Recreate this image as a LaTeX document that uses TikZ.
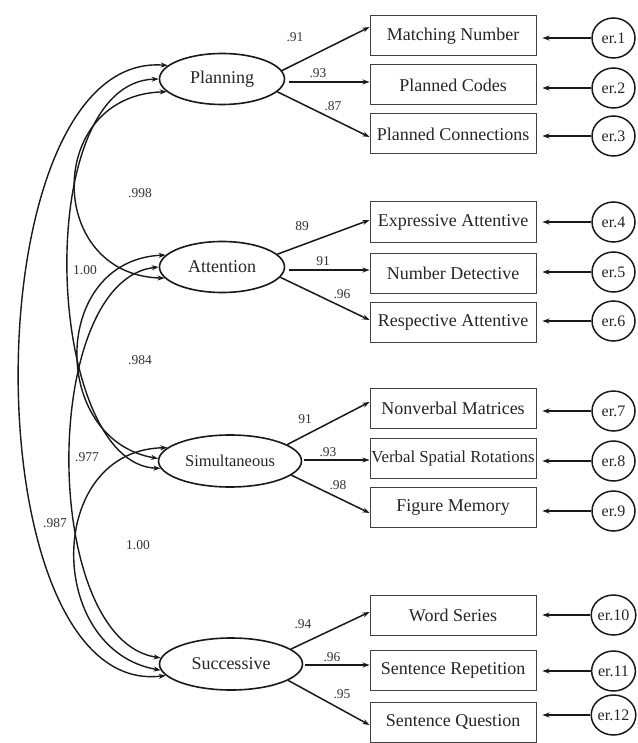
\documentclass[tikz,border=0pt]{standalone}
\usepackage{fontspec}
\setmainfont{Liberation Serif}
\usetikzlibrary{shapes.geometric,arrows.meta}
\begin{document}
\begin{tikzpicture}[x=1pt,y=-1pt,
  lat/.style={draw=black!90, ellipse, line width=1.6pt, inner sep=0pt, minimum width=125pt, minimum height=51pt, text=black!85, font=\fontsize{18}{18}\selectfont},
  obs/.style={draw=black!75, line width=1pt, rectangle, minimum width=166pt, minimum height=40pt, inner sep=0pt, text=black!85, font=\fontsize{18}{18}\selectfont},
  err/.style={draw=black!90, ellipse, line width=1.5pt, minimum width=43pt, minimum height=40pt, inner sep=0pt, text=black!85, font=\fontsize{16}{16}\selectfont},
  load/.style={draw=black!90, line width=1.5pt, -{Stealth[length=7pt,width=5pt]}},
  cov/.style={draw=black!90, line width=1.4pt, {Stealth[length=7pt,width=5pt]}-{Stealth[length=7pt,width=5pt]}},
  coef/.style={font=\fontsize{13.5}{13.5}\selectfont, inner sep=0pt, text=black!80},
]
\fill[white] (0,0) rectangle (637,743);
\useasboundingbox (0,0) rectangle (637,743);

% latent factors
\node[lat] (plan) at (222,79) {Planning};
\node[lat] (att) at (222,267) {Attention};
\node[lat, minimum width=143pt, minimum height=52pt, font=\fontsize{16.5}{16.5}\selectfont] (sim) at (230,461) {Simultaneous};
\node[lat, minimum width=143pt, minimum height=52pt] (suc) at (231,664) {Successive};

% observed variables
\node[obs] (b1) at (453,36) {Matching Number};
\node[obs] (b2) at (453,85) {Planned Codes};
\node[obs] (b3) at (453,134) {Planned Connections};
\node[obs] (b4) at (453,222) {Expressive Attentive};
\node[obs] (b5) at (453,273) {Number Detective};
\node[obs] (b6) at (453,322) {Respective Attentive};
\node[obs] (b7) at (453,408) {Nonverbal Matrices};
\node[obs, font=\fontsize{16.8}{16.8}\selectfont] (b8) at (453,458) {Verbal Spatial Rotations};
\node[obs] (b9) at (453,507) {Figure Memory};
\node[obs] (b10) at (453,615) {Word Series};
\node[obs] (b11) at (453,670) {Sentence Repetition};
\node[obs] (b12) at (453,722) {Sentence Question};

% error terms
\node[err] (e1) at (613.5,38) {er.1};
\node[err] (e2) at (613.5,88) {er.2};
\node[err] (e3) at (613.5,136) {er.3};
\node[err] (e4) at (613.5,222) {er.4};
\node[err] (e5) at (613.5,272) {er.5};
\node[err] (e6) at (613.5,321) {er.6};
\node[err] (e7) at (613.5,411) {er.7};
\node[err] (e8) at (613.5,461) {er.8};
\node[err] (e9) at (613.5,511) {er.9};
\node[err] (e10) at (613.5,615) {er.10};
\node[err] (e11) at (613.5,671) {er.11};
\node[err] (e12) at (613.5,715) {er.12};

\foreach \i in {1,...,12} {
  \draw[load, shorten >=6pt] (e\i.west) -- (e\i.west -| b\i.east);
}

% loadings
\draw[load] (plan.8) -- ([yshift=9pt]b1.west);
\draw[load] ([xshift=4pt,yshift=-3pt]plan.east) -- ([yshift=3pt]b2.west);
\draw[load] (plan.347) -- ([yshift=-3pt]b3.west);

\draw[load] (att.13) -- ([yshift=2pt]b4.west);
\draw[load] ([xshift=4pt,yshift=-3pt]att.east) -- ([yshift=3pt]b5.west);
\draw[load] (att.350) -- ([yshift=2pt]b6.west);

\draw[load] (sim.16) -- ([yshift=6pt]b7.west);
\draw[load] ([xshift=2pt,yshift=1pt]sim.east) -- ([yshift=-2pt]b8.west);
\draw[load] (sim.347) -- ([yshift=-6pt]b9.west);

\draw[load] (suc.14) -- ([yshift=3pt]b10.west);
\draw[load] ([xshift=2pt,yshift=-1pt]suc.east) -- ([yshift=5pt]b11.west);
\draw[load] (suc.344) -- ([yshift=-3pt]b12.west);

% covariances
\draw[cov] (plan.193) .. controls (45,95) and (45,275) .. (att.191);
\draw[cov] (plan.180) .. controls (30,82) and (45,465) .. (sim.186);
\draw[cov] (plan.166) .. controls (-30,50) and (-30,700) .. (suc.190);
\draw[cov] (att.168) .. controls (50,260) and (50,440) .. (sim.178);
\draw[cov] (att.180) .. controls (40,280) and (40,640) .. (suc.175);
\draw[cov] (sim.168) .. controls (45,450) and (45,650) .. (suc.185);

% loading coefficients
\node[coef] (l1) at (295,37) {.91};
\node[coef] (l2) at (318,73) {.93};
\node[coef] (l3) at (333,106) {.87};
\node[coef] (l4) at (302,226) {89};
\node[coef] (l5) at (323,261) {91};
\node[coef] (l6) at (342,294) {.96};
\node[coef] (l7) at (305,419) {91};
\node[coef] (l8) at (328,452) {.93};
\node[coef] (l9) at (338,485) {.98};
\node[coef] (l10) at (303,624) {.94};
\node[coef] (l11) at (332,657) {.96};
\node[coef] (l12) at (342,694) {.95};

% covariance coefficients
\node[coef] (k1) at (140,193) {.998};
\node[coef] (k2) at (85,270) {1.00};
\node[coef] (k3) at (140,360) {.984};
\node[coef] (k4) at (87,457) {.977};
\node[coef] (k5) at (55,523) {.987};
\node[coef] (k6) at (138,545) {1.00};
\end{tikzpicture}
\end{document}
